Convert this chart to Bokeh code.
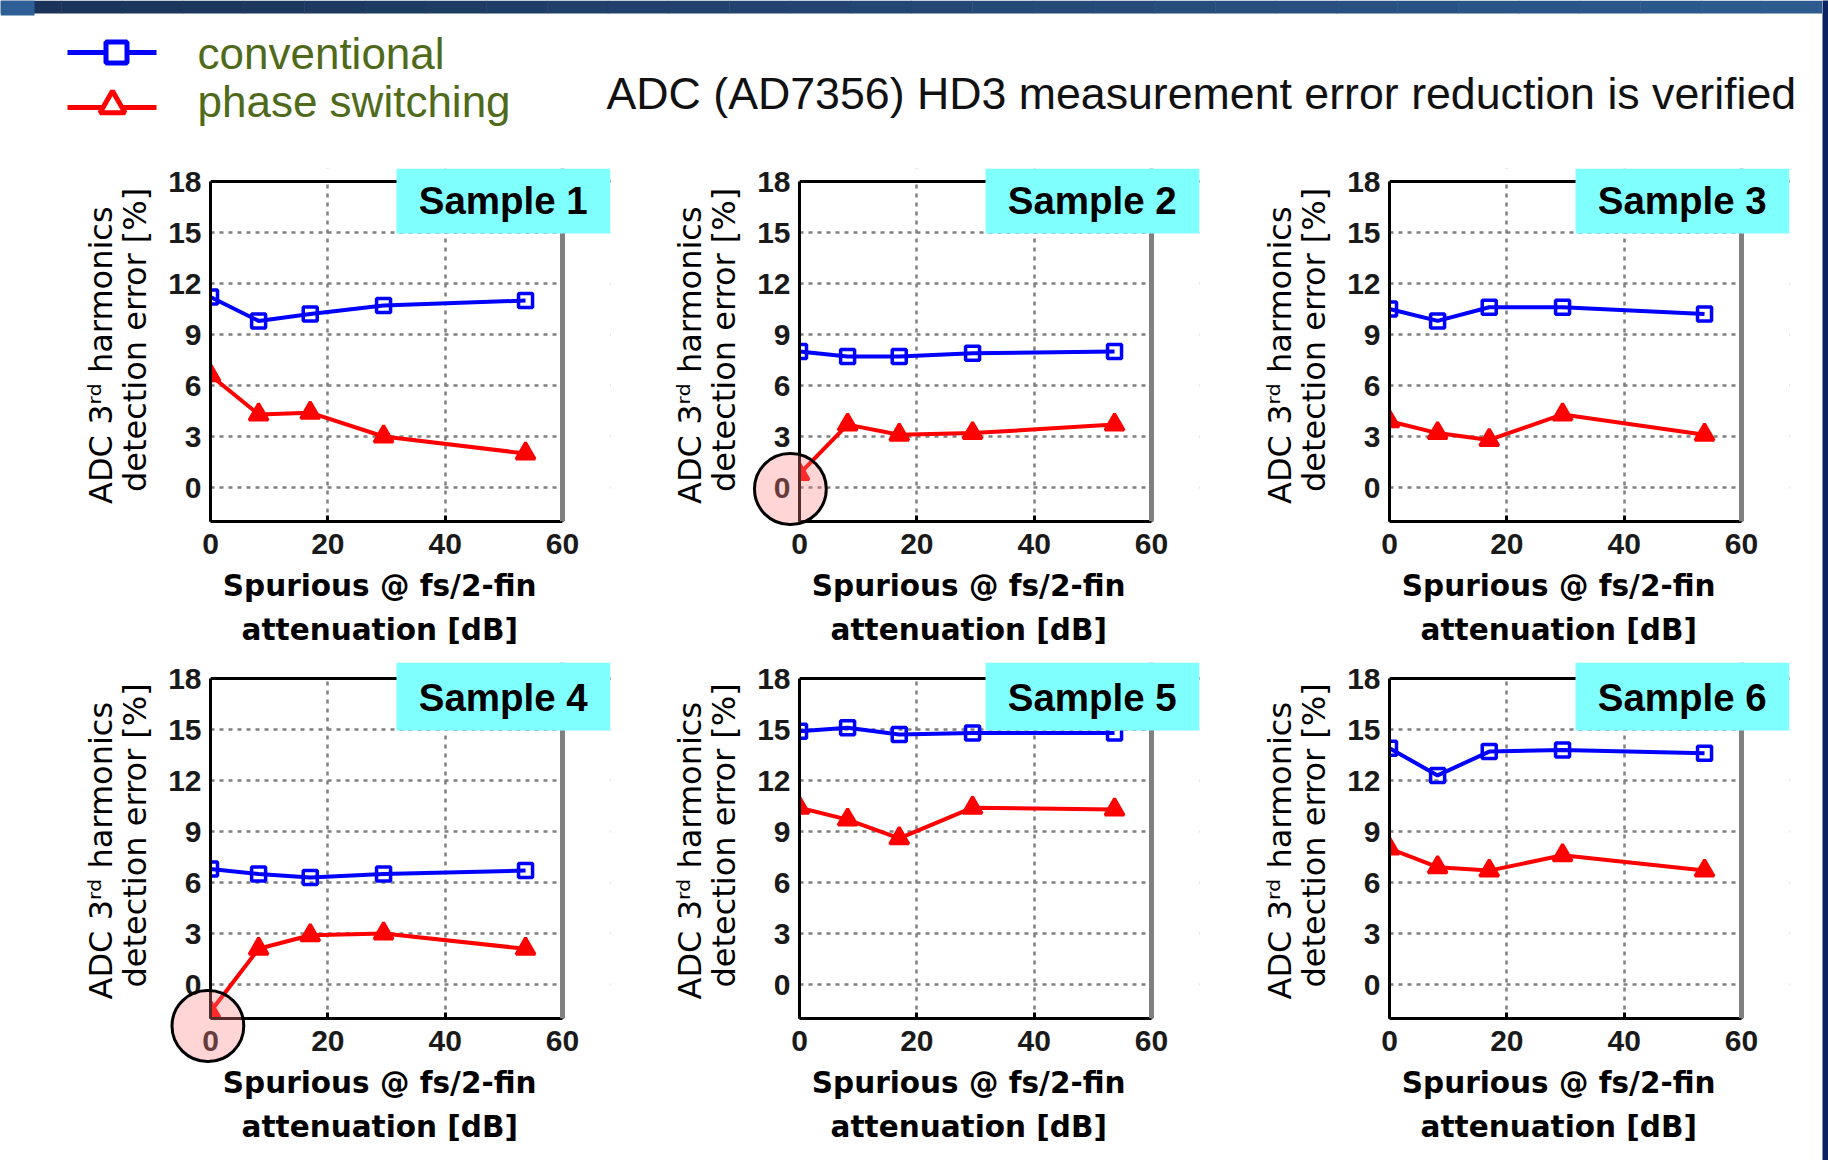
from bokeh.plotting import figure
from bokeh.layouts import column, row
from bokeh.models import (Range1d, FixedTicker, Label, BoxAnnotation, Span, Title)
from bokeh.core.properties import value
from bokeh.embed import file_html
from bokeh.resources import INLINE

# ---------------- data ----------------
atten_db = [0, 8.2, 17, 29.5, 53.7]
sample_names = ["Sample 1", "Sample 2", "Sample 3", "Sample 4", "Sample 5", "Sample 6"]
conv_s1 = [11.2, 9.8, 10.2, 10.7, 11.0]
phase_s1 = [6.6, 4.3, 4.4, 3.0, 2.0]
conv_s2 = [8.0, 7.7, 7.7, 7.9, 8.0]
phase_s2 = [0.8, 3.7, 3.1, 3.2, 3.7]
conv_s3 = [10.5, 9.8, 10.6, 10.6, 10.2]
phase_s3 = [3.9, 3.2, 2.8, 4.3, 3.1]
conv_s4 = [6.8, 6.5, 6.3, 6.5, 6.7]
phase_s4 = [-1.6, 2.1, 2.9, 3.0, 2.1]
conv_s5 = [14.9, 15.1, 14.7, 14.8, 14.8]
phase_s5 = [10.4, 9.7, 8.6, 10.4, 10.3]
conv_s6 = [13.9, 12.3, 13.7, 13.8, 13.6]
phase_s6 = [8.0, 6.9, 6.7, 7.6, 6.7]
x_ticks = [0, 20, 40, 60]
y_ticks = [0, 3, 6, 9, 12, 15, 18]
x_lim = (0, 60)
y_lim = (-2, 18)
series_names = ["conventional", "phase switching"]
title_text = "ADC (AD7356) HD3 measurement error reduction is verified"
NB = "\u00a0"
x_label = "Spurious @ fs/2-fin" + NB * 6 + "\nattenuation [dB]" + NB * 6
y_label = "ADC 3\u02b3\u1d48 harmonics" + NB * 2 + "\n" + NB + "detection error [%]"

conv_all = [conv_s1, conv_s2, conv_s3, conv_s4, conv_s5, conv_s6]
phase_all = [phase_s1, phase_s2, phase_s3, phase_s4, phase_s5, phase_s6]

# ---------------- styling / layout constants ----------------
BLUE = "#0000ff"
RED = "#ff0000"
CYAN = "#80ffff"
GRID = "#808080"
OLIVE = "#4f6a1a"
FRAME_W, FRAME_H = 352, 340          # pixel size of the 0..60 x -2..18 box
PX_X = FRAME_W / (x_lim[1] - x_lim[0])
PX_Y = FRAME_H / (y_lim[1] - y_lim[0])
EXT_RIGHT = 48                       # sample tag sticks out right of the box
TAG_LEFT_PX, TAG_DROP_PX = 186, 52   # tag geometry relative to box
# highlight rings (panel index -> title offset / standoff in px)
ring_pos = {1: (-45, -394), 3: (-38.5, -314)}


def make_panel(idx, w, h, bl, bt, ext_top):
    x_end = x_lim[1] + EXT_RIGHT / PX_X
    y_end = y_lim[1] + ext_top / PX_Y
    fw, fh = FRAME_W + EXT_RIGHT, FRAME_H + ext_top
    kw = dict(width=w, height=h, x_range=Range1d(x_lim[0], x_end),
              y_range=Range1d(y_lim[0], y_end), output_backend="svg",
              toolbar_location=None, min_border_left=bl, min_border_right=w - bl - fw,
              min_border_top=bt, min_border_bottom=h - bt - fh)
    if idx in ring_pos:
        off, so = ring_pos[idx]
        kw["title"] = Title(text=" ", align="left", vertical_align="top", offset=off,
                            standoff=so, text_font_size="10px",
                            background_fill_color="#ff8080", background_fill_alpha=0.33,
                            border_line_color="black", border_line_width=3,
                            border_radius=36,
                            padding=dict(left=34, right=35, top=30, bottom=30))
        kw["title_location"] = "below"
    else:
        kw["title"] = None
    p = figure(**kw)
    p.outline_line_color = None
    p.background_fill_color = "white"
    p.border_fill_color = "white"

    # grids
    p.xgrid.ticker = FixedTicker(ticks=x_ticks)
    p.ygrid.ticker = FixedTicker(ticks=y_ticks)
    for g in (p.xgrid[0], p.ygrid[0]):
        g.grid_line_color = GRID
        g.grid_line_width = 2.5
        g.grid_line_dash = "4 5"

    # white masks outside the 0..60 / -2..18 box (over the grid only)
    p.add_layout(BoxAnnotation(left=x_lim[1], fill_color="white", fill_alpha=1,
                               line_color=None, level="underlay"))
    p.add_layout(BoxAnnotation(bottom=y_lim[1], fill_color="white", fill_alpha=1,
                               line_color=None, level="underlay"))

    # bottom axis
    xa = p.xaxis[0]
    xa.bounds = x_lim
    xa.ticker = FixedTicker(ticks=x_ticks)
    xa.axis_line_color = "black"
    xa.axis_line_width = 3
    xa.major_tick_in = 6
    xa.major_tick_out = 0
    xa.major_tick_line_color = "black"
    xa.major_tick_line_width = 3
    xa.minor_tick_line_color = None
    xa.major_label_text_font = "Liberation Sans"
    xa.major_label_text_font_style = "bold"
    xa.major_label_text_font_size = "30px"
    xa.major_label_text_color = "#1a1a1a"
    xa.major_label_standoff = 12
    xa.axis_label = x_label
    xa.axis_label_text_font = "DejaVu Sans"
    xa.axis_label_text_font_style = "bold"
    xa.axis_label_text_font_size = "29.5px"
    xa.axis_label_text_color = "black"
    xa.axis_label_standoff = 12
    xa.axis_label_text_line_height = 1.31

    # left axis
    ya = p.yaxis[0]
    ya.bounds = y_lim
    ya.ticker = FixedTicker(ticks=y_ticks)
    ya.axis_line_color = "black"
    ya.axis_line_width = 3
    ya.major_tick_in = 0
    ya.major_tick_out = 0
    ya.minor_tick_line_color = None
    ya.major_label_text_font = "Liberation Sans"
    ya.major_label_text_font_style = "bold"
    ya.major_label_text_font_size = "30px"
    ya.major_label_text_color = "#1a1a1a"
    ya.major_label_standoff = 9
    ya.axis_label = y_label
    ya.axis_label_text_font = "DejaVu Sans"
    ya.axis_label_text_font_style = "normal"
    ya.axis_label_text_font_size = "32px"
    ya.axis_label_text_color = "black"
    ya.axis_label_standoff = 11
    ya.axis_label_text_line_height = 0.886

    # top (black) and right (gray) box sides
    p.add_layout(Span(location=y_lim[1], dimension="width", line_color="black", line_width=3))
    p.add_layout(Span(location=x_lim[1], dimension="height", line_color=GRID, line_width=5))

    conv = conv_all[idx]
    phase = phase_all[idx]
    p.line(atten_db, conv, line_color=BLUE, line_width=4)
    p.scatter(atten_db, conv, marker="square", size=14, line_color=BLUE, line_width=3.5,
              fill_alpha=0)
    p.line(atten_db, phase, line_color=RED, line_width=4)
    p.scatter(atten_db, phase, marker="triangle", size=19, line_color=RED, line_width=3,
              fill_color=RED)

    # cyan sample tag
    p.add_layout(BoxAnnotation(left=TAG_LEFT_PX / PX_X, bottom=y_lim[1] - TAG_DROP_PX / PX_Y,
                               fill_color=CYAN, fill_alpha=1, line_color=None))
    p.add_layout(Label(x=49.9, y=y_lim[1] - 19.3 / PX_Y, text=sample_names[idx],
                       text_align="center", text_baseline="middle",
                       text_font="Liberation Sans", text_font_style="bold",
                       text_font_size="38.5px", text_color="black"))
    return p


# ---------------- top strip (legend + title) ----------------
TOP_W, TOP_H = 1822, 145
top = figure(width=TOP_W, height=TOP_H, x_range=Range1d(0, TOP_W), y_range=Range1d(TOP_H, 0),
             output_backend="svg", toolbar_location=None, title=None, min_border=0,
             x_axis_location=None, y_axis_location=None)
top.grid.visible = False
top.outline_line_color = None
top.background_fill_color = "white"
top.border_fill_color = "white"

# header bar with slight gradient
n_seg = 30
c0, c1 = (27, 51, 88), (45, 91, 144)
seg_w = TOP_W / n_seg
lefts = [i * seg_w for i in range(n_seg)]
rights = [l + seg_w + 0.5 for l in lefts]
cols = ["#%02x%02x%02x" % tuple(int(c0[k] + (c1[k] - c0[k]) * i / (n_seg - 1)) for k in range(3))
        for i in range(n_seg)]
top.quad(left=lefts, right=rights, top=[0] * n_seg, bottom=[13] * n_seg, fill_color=cols,
         line_color=None)
top.quad(left=[0], right=[34], top=[0], bottom=[15], fill_color="#2e5e96", line_color=None)

# legend keys
leg_x0, leg_x1 = 67, 156
leg_y = [52, 107]
top.line([leg_x0, leg_x1], [leg_y[0], leg_y[0]], line_color=BLUE, line_width=5)
top.scatter([116], [leg_y[0]], marker="square", size=21, line_color=BLUE, line_width=5,
            fill_color="white")
top.line([leg_x0, leg_x1], [leg_y[1], leg_y[1]], line_color=RED, line_width=5)
top.scatter([112], [leg_y[1] - 2], marker="triangle", size=25, line_color=RED, line_width=5,
            fill_color="white")
top.text(x=[197, 197], y=[53, 101], text=series_names, text_font=value("Liberation Sans"),
         text_font_size="44px", text_color=OLIVE, text_baseline="middle",
         text_align="left")
top.text(x=[606], y=[93], text=[title_text], text_font=value("Liberation Sans"),
         text_font_size="44.7px", text_color="#111111", text_baseline="middle",
         text_align="left")

# ---------------- panels ----------------
col_specs = [(640, 210), (590, 159), (592, 159)]
row_specs = [(515, 23, 13), (500, 2, 16)]
rows = []
for r, (h, bt, ext) in enumerate(row_specs):
    rows.append(row(*[make_panel(r * 3 + c, w, h, bl, bt, ext)
                      for c, (w, bl) in enumerate(col_specs)]))

strip = figure(width=6, height=TOP_H + sum(rs[0] for rs in row_specs), output_backend="svg",
               toolbar_location=None, title=None, min_border=0,
               x_axis_location=None, y_axis_location=None)
strip.grid.visible = False
strip.outline_line_color = None
strip.background_fill_color = "#0d2260"
strip.border_fill_color = "#0d2260"

layout = row(column(top, *rows), strip)

open("out.html", "w").write(file_html(layout, INLINE))
